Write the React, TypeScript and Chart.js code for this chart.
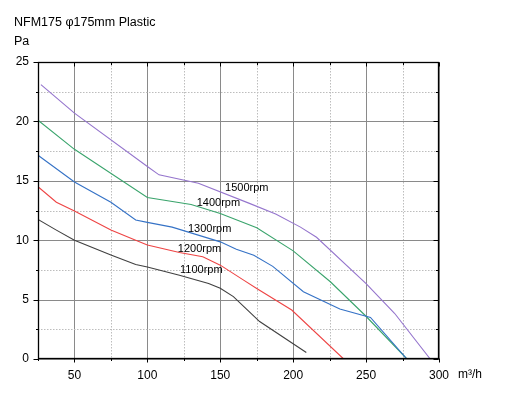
import React, { useEffect, useRef } from "react";
import { Chart, registerables } from "chart.js";

Chart.register(...registerables);

const chartTitle = "NFM175 φ175mm Plastic";
const yUnit = "Pa";
const xUnit = "m³/h";

const seriesNames = ["1100rpm", "1200rpm", "1300rpm", "1400rpm", "1500rpm"];
const seriesColors = ["#404040", "#ee4444", "#3572c6", "#3aa46c", "#9575cd"];

const x1100 = [25, 37.6, 50, 75, 92, 100, 122, 142, 150, 159, 177, 209];
const y1100 = [11.75, 10.85, 10.0, 8.75, 7.95, 7.75, 7.05, 6.35, 5.95, 5.25, 3.15, 0.55];

const x1200 = [25, 37.6, 50, 75, 92, 100, 122, 138, 150, 166, 175, 199, 234.6];
const y1200 = [14.5, 13.2, 12.45, 10.85, 10.0, 9.6, 8.97, 8.6, 7.9, 6.64, 5.94, 4.12, 0];

const x1300 = [25, 50, 75, 92, 100, 117, 150, 161, 173, 186, 207, 232, 253, 278];
const y1300 = [17.15, 14.9, 13.2, 11.7, 11.5, 11.1, 9.86, 9.24, 8.74, 7.8, 5.66, 4.2, 3.5, 0];

const x1400 = [25, 50, 100, 130, 150, 175, 200, 225.5, 249.6, 278];
const y1400 = [20.1, 17.65, 13.6, 13.0, 12.24, 11.05, 9.1, 6.5, 3.64, 0];

const x1500 = [27, 50, 100, 108, 135, 170, 188, 205, 216, 250, 269.5, 294];
const y1500 = [23.1, 20.7, 16.2, 15.5, 14.8, 13.1, 12.2, 11.1, 10.25, 6.35, 3.85, 0];

const seriesX = [x1100, x1200, x1300, x1400, x1500];
const seriesY = [y1100, y1200, y1300, y1400, y1500];

// curve label anchors (data coordinates)
const labelX = [137, 135.8, 142.7, 148.7, 168.2];
const labelY = [7.48, 9.3, 10.93, 13.13, 14.4];

const xMin = 25;
const xMax = 300;
const xStep = 25;
const xMajor = 50;
const yMin = 0;
const yMax = 25;
const yStep = 2.5;
const yMajor = 5;

const FONT = "'Liberation Sans', Arial, sans-serif";

const decorPlugin = {
  id: "decor",
  beforeDatasetsDraw(chart: any) {
    const { ctx, chartArea: a, scales } = chart;
    const xs = scales.x;
    const ys = scales.y;
    ctx.save();
    ctx.lineWidth = 1;
    for (let v = xMin; v <= xMax + 1e-9; v += xStep) {
      const px = Math.round(xs.getPixelForValue(v)) + 0.5;
      const major = Math.abs(v % xMajor) < 1e-9;
      ctx.beginPath();
      if (major) {
        ctx.strokeStyle = "#8a8a8a";
        ctx.setLineDash([]);
      } else {
        ctx.strokeStyle = "#bdbdbd";
        ctx.setLineDash([1.5, 1.5]);
      }
      ctx.moveTo(px, a.top);
      ctx.lineTo(px, a.bottom);
      ctx.stroke();
    }
    for (let v = yMin; v <= yMax + 1e-9; v += yStep) {
      const py = Math.round(ys.getPixelForValue(v)) + 0.5;
      const major = Math.abs(v % yMajor) < 1e-9;
      ctx.beginPath();
      if (major) {
        ctx.strokeStyle = "#8a8a8a";
        ctx.setLineDash([]);
      } else {
        ctx.strokeStyle = "#bdbdbd";
        ctx.setLineDash([1.5, 1.5]);
      }
      ctx.moveTo(a.left, py);
      ctx.lineTo(a.right, py);
      ctx.stroke();
    }
    ctx.restore();
  },
  afterDatasetsDraw(chart: any) {
    const { ctx, chartArea: a, scales } = chart;
    const xs = scales.x;
    const ys = scales.y;
    ctx.save();
    ctx.setLineDash([]);
    ctx.strokeStyle = "#000";
    ctx.lineWidth = 1;
    const L = Math.round(a.left) + 0.5;
    const R = Math.round(a.right) - 0.5;
    const T = Math.round(a.top) + 0.5;
    const B = Math.round(a.bottom) - 0.5;
    for (let v = xMin; v <= xMax + 1e-9; v += xStep) {
      const px = Math.round(xs.getPixelForValue(v)) + 0.5;
      const major = Math.abs(v % xMajor) < 1e-9;
      const len = major ? 4 : 2.5;
      ctx.beginPath();
      ctx.moveTo(px, B);
      ctx.lineTo(px, B + len);
      ctx.moveTo(px, T);
      ctx.lineTo(px, T + len);
      ctx.stroke();
    }
    for (let v = yMin; v <= yMax + 1e-9; v += yStep) {
      const py = Math.round(ys.getPixelForValue(v)) + 0.5;
      const major = Math.abs(v % yMajor) < 1e-9;
      const len = major ? 5 : 2.5;
      ctx.beginPath();
      ctx.moveTo(L, py);
      ctx.lineTo(L - len, py);
      ctx.moveTo(R, py);
      ctx.lineTo(R - len, py);
      ctx.stroke();
    }
    ctx.lineWidth = 1.3;
    ctx.strokeRect(L, T, R - L, B - T);

    ctx.fillStyle = "#000";
    ctx.font = `11px ${FONT}`;
    ctx.textAlign = "center";
    ctx.textBaseline = "middle";
    for (let i = 0; i < seriesNames.length; i++) {
      ctx.fillText(seriesNames[i], xs.getPixelForValue(labelX[i]), ys.getPixelForValue(labelY[i]));
    }

    ctx.font = `12.5px ${FONT}`;
    ctx.textAlign = "left";
    ctx.fillText(chartTitle, 14, 23);
    ctx.fillText(yUnit, 14, 42);
    ctx.font = `12px ${FONT}`;
    ctx.fillText(xUnit, a.right + 19, 375);
    ctx.restore();
  },
};

export default function App() {
  const ref = useRef<HTMLCanvasElement | null>(null);
  useEffect(() => {
    if (!ref.current) return;
    const datasets = seriesNames.map((name, i) => ({
      label: name,
      data: seriesX[i].map((x, j) => ({ x, y: seriesY[i][j] })),
      borderColor: seriesColors[i],
      backgroundColor: seriesColors[i],
      borderWidth: 1.1,
      pointRadius: 0,
      tension: 0,
      fill: false,
    }));
    const chart = new Chart(ref.current, {
      type: "line",
      data: { datasets },
      options: {
        animation: false,
        responsive: false,
        devicePixelRatio: 1,
        layout: { padding: { left: 0, top: 62, right: 76, bottom: 0 } },
        plugins: { legend: { display: false }, tooltip: { enabled: false }, title: { display: false } },
        scales: {
          x: {
            type: "linear",
            min: xMin,
            max: xMax,
            grid: { display: false, drawTicks: false },
            border: { display: false },
            ticks: {
              stepSize: xStep,
              autoSkip: false,
              maxRotation: 0,
              padding: 9,
              color: "#000",
              font: { family: FONT, size: 12 },
              callback: (v: any) => (Math.abs(Number(v) % xMajor) < 1e-9 ? String(v) : ""),
            },
            afterFit: (s: any) => {
              s.height = 37;
            },
          },
          y: {
            type: "linear",
            min: yMin,
            max: yMax,
            grid: { display: false, drawTicks: false },
            border: { display: false },
            ticks: {
              stepSize: yStep,
              autoSkip: false,
              padding: 9,
              color: "#000",
              font: { family: FONT, size: 12 },
              callback: (v: any) => (Math.abs(Number(v) % yMajor) < 1e-9 ? String(v) : ""),
            },
            afterFit: (s: any) => {
              s.width = 38;
            },
          },
        },
      },
      plugins: [decorPlugin],
    } as any);
    return () => chart.destroy();
  }, []);
  return (
    <div style={{ position: "absolute", left: 0, top: 0, width: 515, height: 396, background: "#fff" }}>
      <canvas ref={ref} width={515} height={396} />
    </div>
  );
}
